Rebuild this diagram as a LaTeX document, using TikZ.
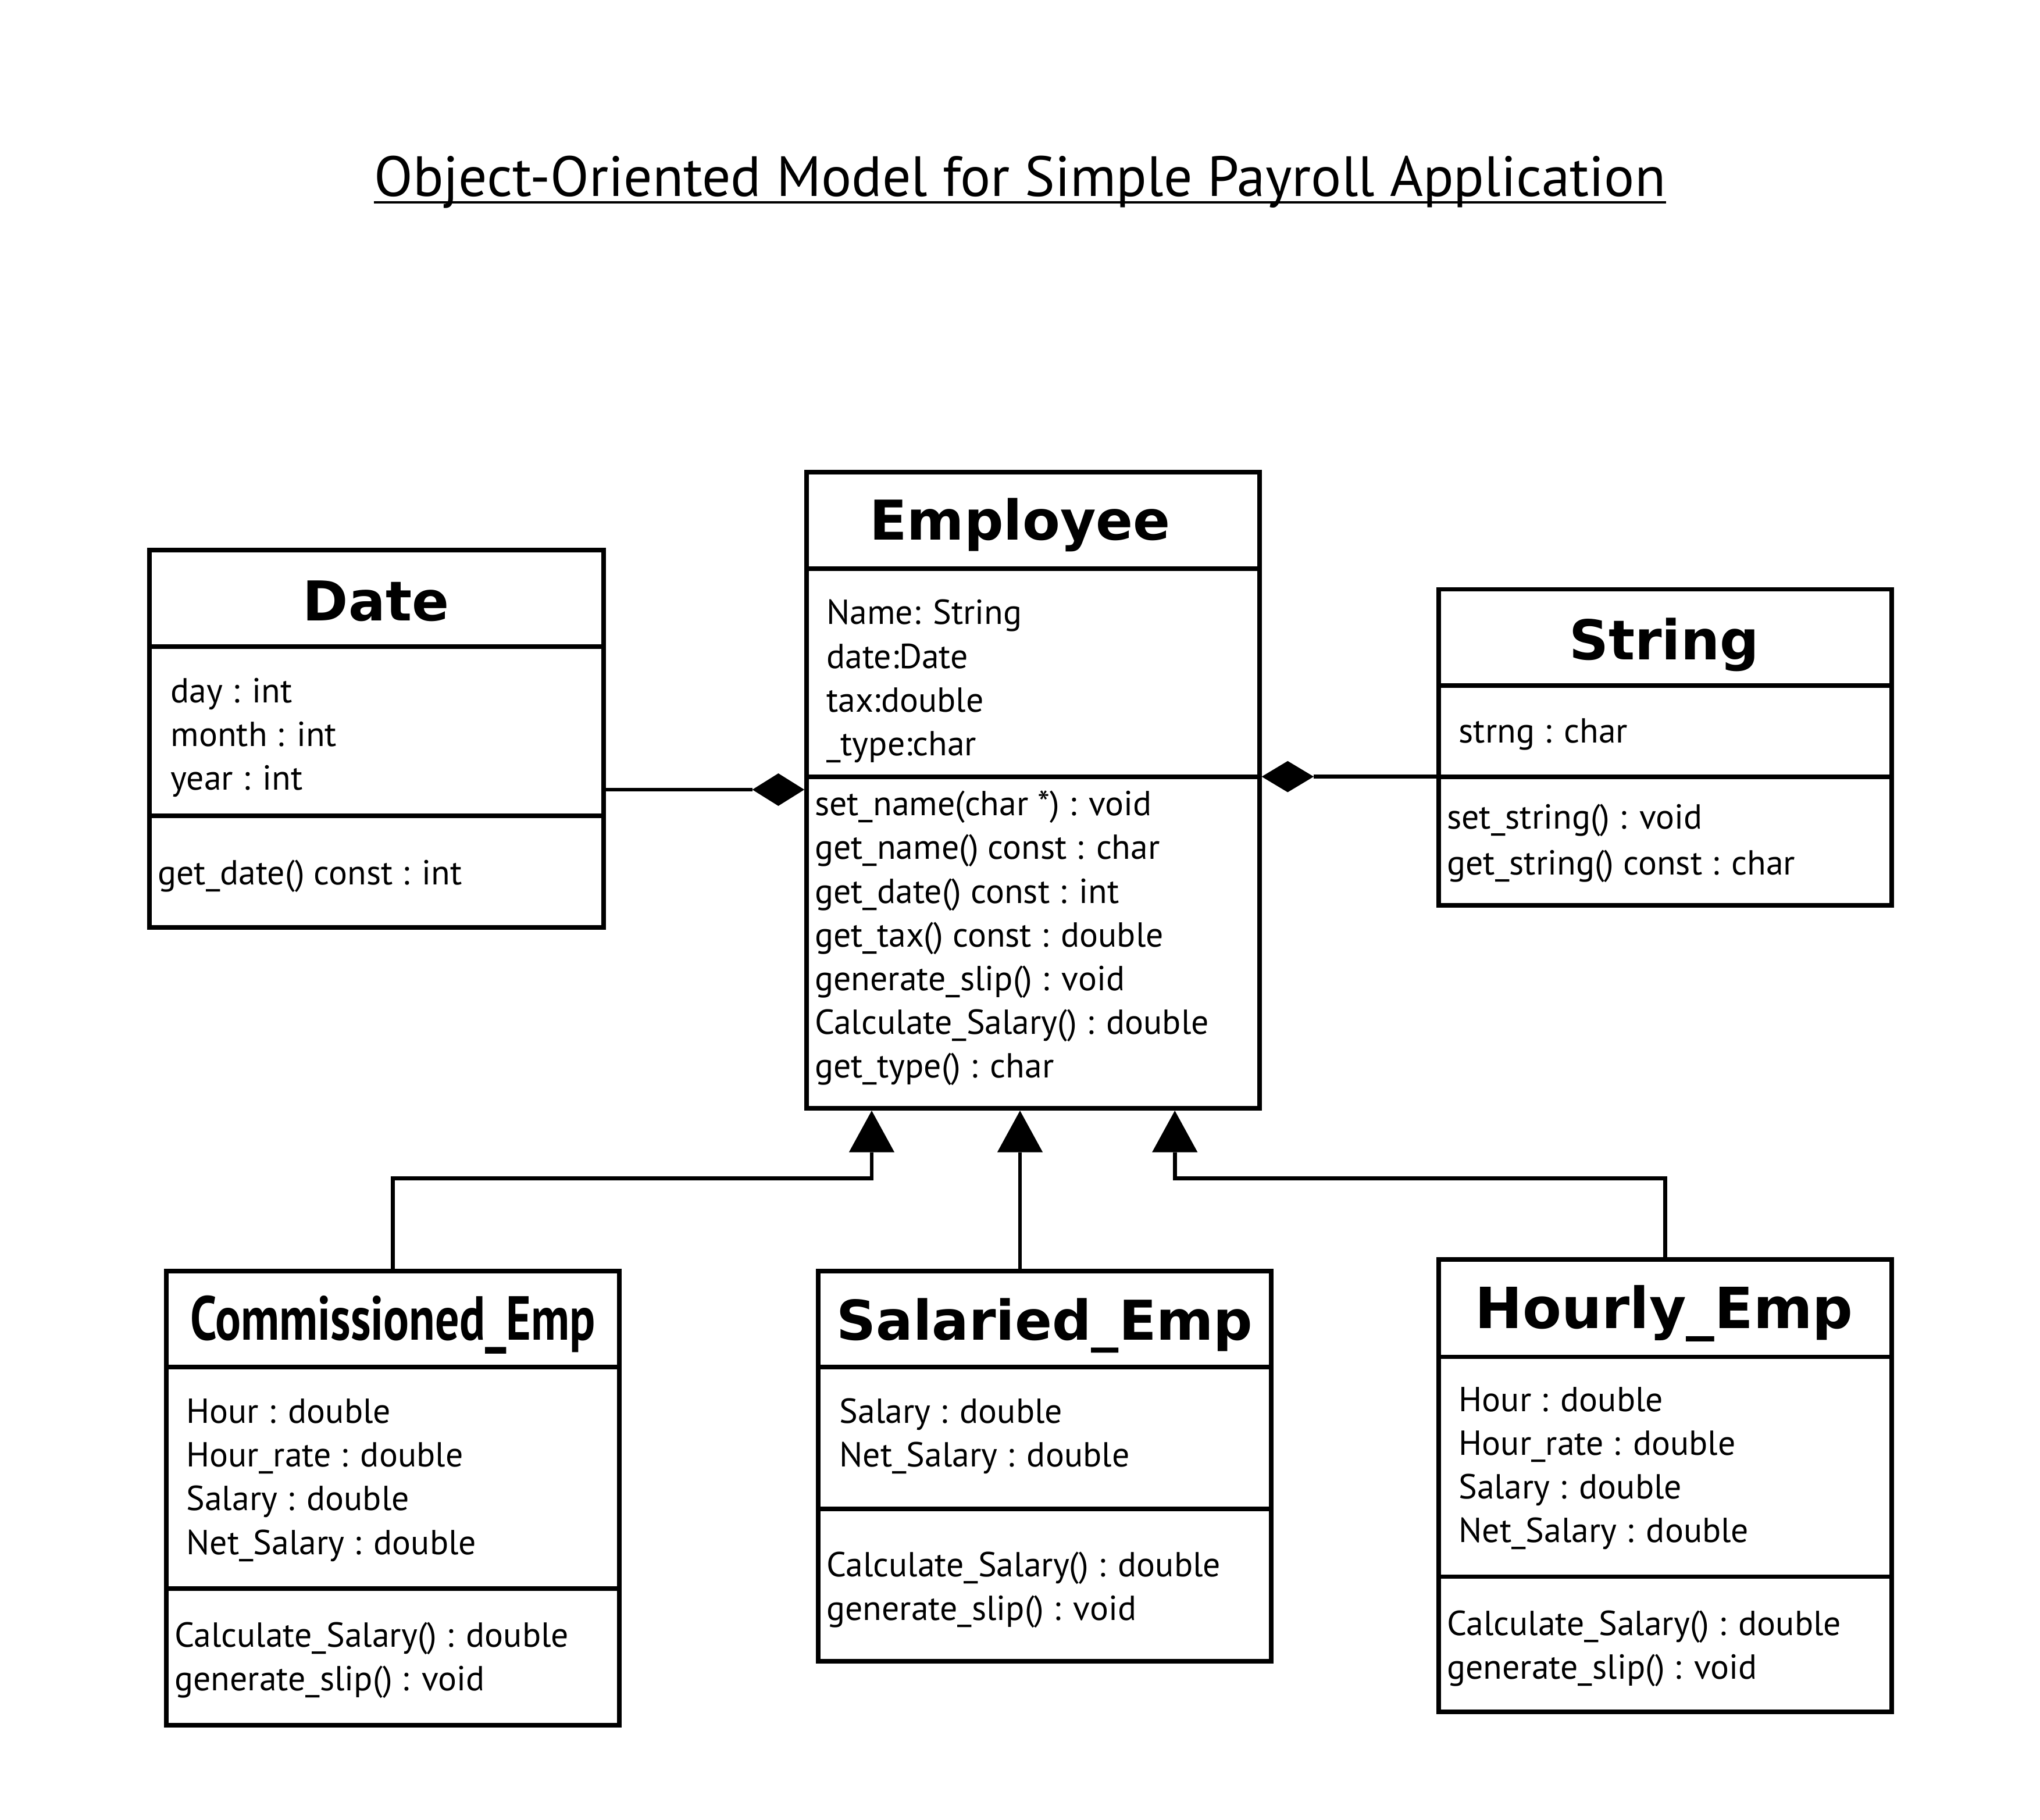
\documentclass[tikz,border=0pt]{standalone}
\usepackage{fontspec}
\usepackage{graphicx}
\setmainfont{PT Sans}
\newfontfamily\hdfont{DejaVu Sans}
\usetikzlibrary{fit,calc}
\begin{document}
\begin{tikzpicture}[x=0.025cm,y=-0.025cm,
  box/.style={draw,line width=2.5pt,inner sep=0pt},
  sepline/.style={line width=2.5pt},
  conn/.style={line width=2.1pt},
  txt/.style={anchor=base west,inner sep=0pt,font=\fontsize{19}{23}\selectfont},
  hd/.style={anchor=base,inner sep=0pt,font=\hdfont\bfseries\fontsize{30}{36}\selectfont},
  tip/.style={fill=black,draw=none},
]
\useasboundingbox (0,0) rectangle (1568,1399);

\node[anchor=base,inner sep=0pt,font=\fontsize{31}{36}\selectfont] (title) at (784,151) {Object-Oriented Model for Simple Payroll Application};
\draw[line width=1.4pt] ($(title.base west)+(0,4.5)$) -- ($(title.base east)+(0,4.5)$);

% boxes
\node[box,fit={(115,423)(464,713)}] (date) {};
\node[box,fit={(620,363)(968,852)}] (emp) {};
\node[box,fit={(1106,453)(1454,696)}] (str) {};
\node[box,fit={(128,977)(476,1326)}] (comm) {};
\node[box,fit={(629,977)(977,1277)}] (sal) {};
\node[box,fit={(1106,968)(1454,1316)}] (hour) {};

% dividers
\draw[sepline] (date.west |- 0,497) -- (date.east |- 0,497);
\draw[sepline] (date.west |- 0,627) -- (date.east |- 0,627);
\draw[sepline] (emp.west |- 0,437) -- (emp.east |- 0,437);
\draw[sepline] (emp.west |- 0,597) -- (emp.east |- 0,597);
\draw[sepline] (str.west |- 0,527) -- (str.east |- 0,527);
\draw[sepline] (str.west |- 0,597) -- (str.east |- 0,597);
\draw[sepline] (comm.west |- 0,1051) -- (comm.east |- 0,1051);
\draw[sepline] (comm.west |- 0,1221) -- (comm.east |- 0,1221);
\draw[sepline] (sal.west |- 0,1051) -- (sal.east |- 0,1051);
\draw[sepline] (sal.west |- 0,1160) -- (sal.east |- 0,1160);
\draw[sepline] (hour.west |- 0,1043) -- (hour.east |- 0,1043);
\draw[sepline] (hour.west |- 0,1212) -- (hour.east |- 0,1212);

% headers
\node[hd] (dateT) at (289,477) {Date};
\node[hd] (empT) at (784,415) {Employee};
\node[hd] (strT) at (1279,507) {String};
\node[anchor=base,inner sep=0pt,font=\bfseries\fontsize{34}{40}\selectfont] (commT) at (302,1030) {\resizebox{7.775cm}{\height}{Commissioned\_Emp}};
\node[hd] (salT) at (803,1030) {Salaried\_Emp};
\node[hd,font=\hdfont\bfseries\fontsize{31}{36}\selectfont] (hourT) at (1279,1021) {Hourly\_Emp};

% texts
\foreach \t [count=\i from 0] in {day : int, month : int, year : int}
  \node[txt] (da\i) at (131,540+33.6*\i) {\t};
\node[txt] (dm0) at (121,680) {get\_date() const : int};

\foreach \t [count=\i from 0] in {Name: String, date:Date, tax:double, \_type:char}
  \node[txt] (ea\i) at (635,480+33.6*\i) {\t};
\foreach \t [count=\i from 0] in {set\_name(char *) : void, get\_name() const : char, get\_date() const : int, get\_tax() const : double, generate\_slip() : void, Calculate\_Salary() : double, get\_type() : char}
  \node[txt] (em\i) at (626,627+33.6*\i) {\t};

\node[txt] (sa0) at (1121,571) {strng : char};
\foreach \t [count=\i from 0] in {set\_string() : void, get\_string() const : char}
  \node[txt] (sm\i) at (1112,637+35.5*\i) {\t};

\foreach \t [count=\i from 0] in {Hour : double, Hour\_rate : double, Salary : double, Net\_Salary : double}
  \node[txt] (ca\i) at (143,1094+33.6*\i) {\t};
\foreach \t [count=\i from 0] in {Calculate\_Salary() : double, generate\_slip() : void}
  \node[txt] (cm\i) at (134,1266+33.6*\i) {\t};

\foreach \t [count=\i from 0] in {Salary : double, Net\_Salary : double}
  \node[txt] (sla\i) at (645,1094+33.6*\i) {\t};
\foreach \t [count=\i from 0] in {Calculate\_Salary() : double, generate\_slip() : void}
  \node[txt] (slm\i) at (635,1212+33.6*\i) {\t};

\foreach \t [count=\i from 0] in {Hour : double, Hour\_rate : double, Salary : double, Net\_Salary : double}
  \node[txt] (ha\i) at (1121,1085+33.6*\i) {\t};
\foreach \t [count=\i from 0] in {Calculate\_Salary() : double, generate\_slip() : void}
  \node[txt] (hm\i) at (1112,1257+33.6*\i) {\t};

% compositions
\coordinate (dT) at (emp.west |- 0,607);
\coordinate (sT) at (emp.east |- 0,597);
\draw[conn] (date.east |- dT) -- ($(dT)+(-40,0)$);
\fill[tip] (dT) -- ++(-20,-12.5) -- ++(-20,12.5) -- ++(20,12.5) -- cycle;
\draw[conn] (str.west |- sT) -- ($(sT)+(40,0)$);
\fill[tip] (sT) -- ++(20,-12) -- ++(20,12) -- ++(-20,12) -- cycle;

% generalizations
\coordinate (t1) at (emp.south -| 670,0);
\coordinate (t2) at (emp.south -| 784,0);
\coordinate (t3) at (emp.south -| 903,0);
\foreach \c in {t1,t2,t3}
  \fill[tip] (\c) -- ++(-17.5,32) -- ++(35,0) -- cycle;
\draw[conn] (comm.north) |- ($(t1)+(0,52)$) -- ($(t1)+(0,32)$);
\draw[conn] (sal.north -| t2) -- ($(t2)+(0,32)$);
\draw[conn] (hour.north) |- ($(t3)+(0,52)$) -- ($(t3)+(0,32)$);
\end{tikzpicture}
\end{document}
